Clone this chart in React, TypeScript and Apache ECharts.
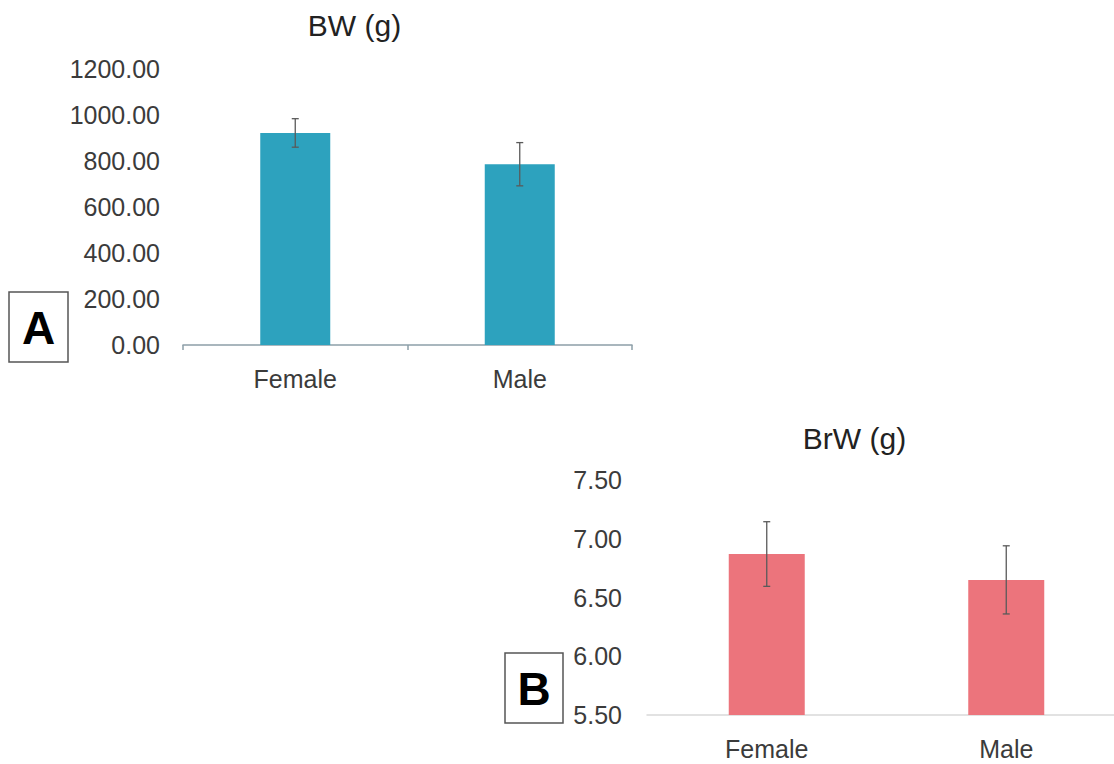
import React, { useEffect, useRef } from "react";
import * as echarts from "echarts";

const categories = ["Female", "Male"];
const bwMeans = [922, 786];
const bwErr = [62, 94];
const brwMeans = [6.87, 6.65];
const brwErr = [0.275, 0.29];
const bwTicks = { min: 0, max: 1200, interval: 200 };
const brwTicks = { min: 5.5, max: 7.5, interval: 0.5 };

const FONT = '"Liberation Sans", Arial, sans-serif';
const TXT = "#3b3b3b";

function errData(means: number[], errs: number[]) {
  return means.map((m, i) => [i, m - errs[i], m + errs[i]]);
}

function errRender(params: any, api: any) {
  const i = api.value(0);
  const lo = api.coord([i, api.value(1)]);
  const hi = api.coord([i, api.value(2)]);
  const w = 3.5;
  const style = { stroke: "#5a5a5a", lineWidth: 1.3 };
  return {
    type: "group",
    children: [
      { type: "line", shape: { x1: lo[0], y1: lo[1], x2: hi[0], y2: hi[1] }, style },
      { type: "line", shape: { x1: lo[0] - w, y1: lo[1], x2: lo[0] + w, y2: lo[1] }, style },
      { type: "line", shape: { x1: hi[0] - w, y1: hi[1], x2: hi[0] + w, y2: hi[1] }, style },
    ],
  };
}

export default function App() {
  const ref = useRef<HTMLDivElement>(null);
  useEffect(() => {
    if (!ref.current) return;
    const chart = echarts.init(ref.current, undefined, { renderer: "svg" });
    const yLabel = {
      fontFamily: FONT,
      fontSize: 25,
      color: TXT,
      formatter: (v: number) => v.toFixed(2),
    };
    const xLabel = { fontFamily: FONT, fontSize: 25, color: TXT, margin: 21 };
    chart.setOption({
      animation: false,
      grid: [
        { left: 183, top: 69, width: 449, height: 276 },
        { left: 647, top: 480, width: 479, height: 235 },
      ],
      xAxis: [
        {
          type: "category",
          gridIndex: 0,
          data: categories,
          axisLine: { lineStyle: { color: "#8d9fa8", width: 1.5 } },
          axisTick: { show: true, length: 5, lineStyle: { color: "#8d9fa8", width: 1.5 } },
          axisLabel: xLabel,
        },
        {
          type: "category",
          gridIndex: 1,
          data: categories,
          axisLine: { lineStyle: { color: "#d9d9d9", width: 1.5 } },
          axisTick: { show: false },
          axisLabel: xLabel,
        },
      ],
      yAxis: [
        {
          type: "value",
          gridIndex: 0,
          ...bwTicks,
          splitLine: { show: false },
          axisLine: { show: false },
          axisTick: { show: false },
          axisLabel: { ...yLabel, margin: 23 },
        },
        {
          type: "value",
          gridIndex: 1,
          ...brwTicks,
          splitLine: { show: false },
          axisLine: { show: false },
          axisTick: { show: false },
          axisLabel: { ...yLabel, margin: 25 },
        },
      ],
      series: [
        {
          type: "bar",
          xAxisIndex: 0,
          yAxisIndex: 0,
          data: bwMeans,
          barWidth: 70,
          itemStyle: { color: "#2da2be" },
        },
        {
          type: "custom",
          xAxisIndex: 0,
          yAxisIndex: 0,
          data: errData(bwMeans, bwErr),
          encode: { x: 0, y: [1, 2] },
          renderItem: errRender,
          z: 10,
        },
        {
          type: "bar",
          xAxisIndex: 1,
          yAxisIndex: 1,
          data: brwMeans,
          barWidth: 76,
          itemStyle: { color: "#ec747c" },
        },
        {
          type: "custom",
          xAxisIndex: 1,
          yAxisIndex: 1,
          data: errData(brwMeans, brwErr),
          encode: { x: 0, y: [1, 2] },
          renderItem: errRender,
          z: 10,
        },
      ],
      graphic: [
        {
          type: "text",
          x: 354.5,
          y: 25,
          style: {
            text: "BW (g)",
            font: `30px ${FONT}`,
            fill: "#222",
            textAlign: "center",
            textVerticalAlign: "middle",
          },
        },
        {
          type: "text",
          x: 854.5,
          y: 438,
          style: {
            text: "BrW (g)",
            font: `30px ${FONT}`,
            fill: "#222",
            textAlign: "center",
            textVerticalAlign: "middle",
          },
        },
        {
          type: "rect",
          shape: { x: 9, y: 292, width: 59, height: 70 },
          style: { fill: "#fff", stroke: "#555", lineWidth: 1.5 },
        },
        {
          type: "text",
          x: 38.5,
          y: 328,
          style: {
            text: "A",
            font: `900 46px ${FONT}`,
            fill: "#000",
            textAlign: "center",
            textVerticalAlign: "middle",
          },
        },
        {
          type: "rect",
          shape: { x: 505, y: 653, width: 58, height: 70 },
          style: { fill: "#fff", stroke: "#555", lineWidth: 1.5 },
        },
        {
          type: "text",
          x: 534,
          y: 689,
          style: {
            text: "B",
            font: `900 46px ${FONT}`,
            fill: "#000",
            textAlign: "center",
            textVerticalAlign: "middle",
          },
        },
      ],
    });
    return () => chart.dispose();
  }, []);
  return (
    <div
      style={{ position: "absolute", left: 0, top: 0, width: 1114, height: 764, overflow: "hidden", background: "#fff" }}
    >
      <div ref={ref} style={{ width: 1140, height: 764 }} />
    </div>
  );
}
